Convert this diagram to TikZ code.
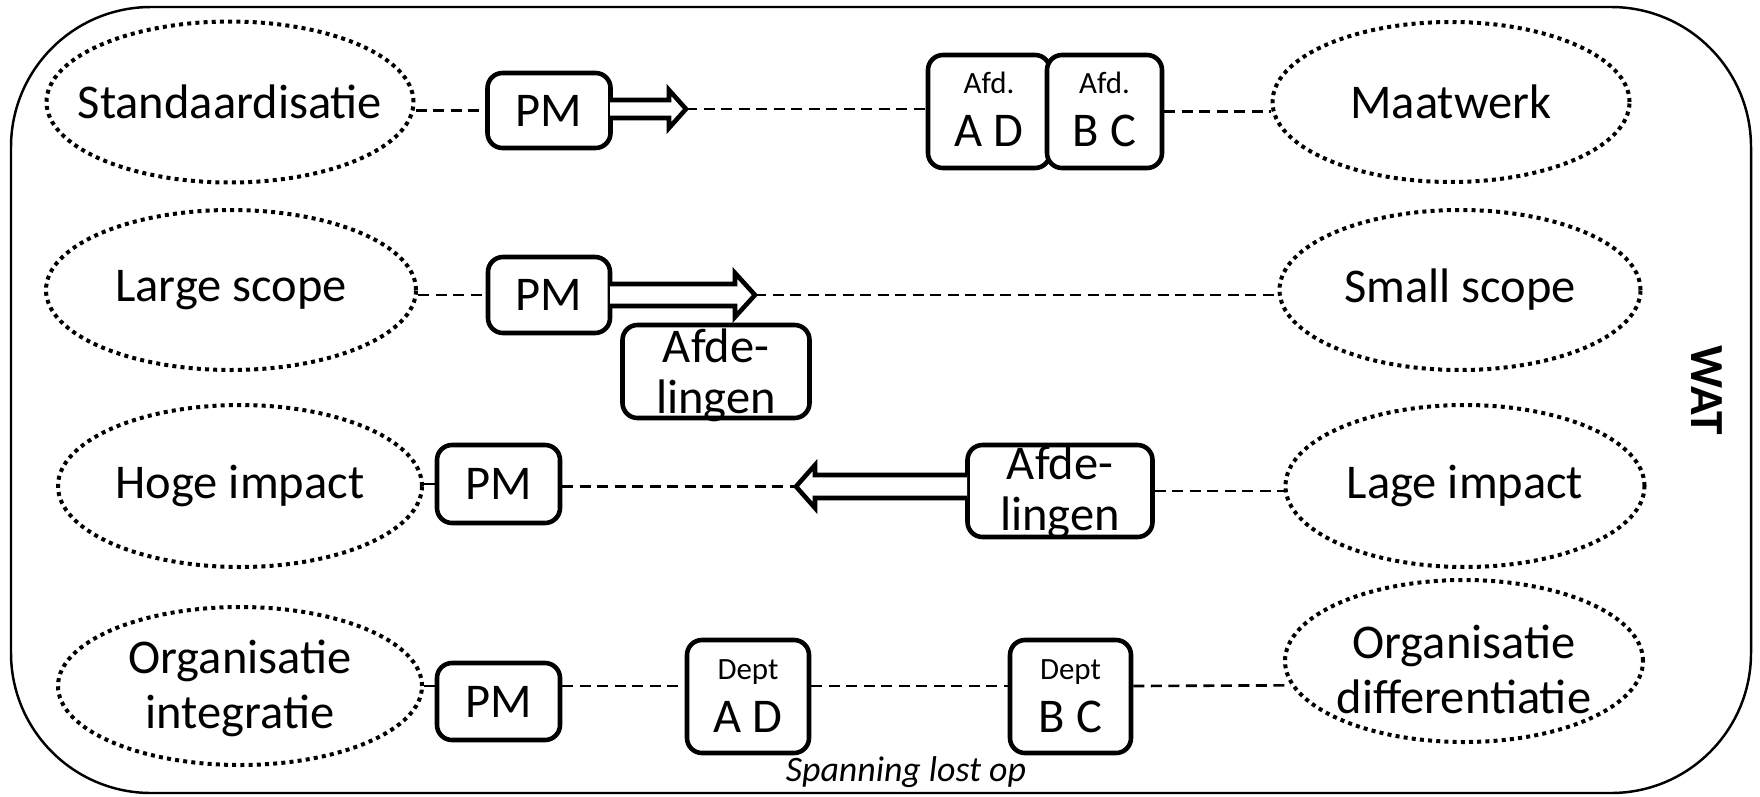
\documentclass[tikz,border=0pt]{standalone}
\usepackage{fontspec}
\setmainfont{Carlito}
\usetikzlibrary{shapes.geometric}
\newcommand\fsmain{\fontsize{13.8}{15.6}\selectfont}
\newcommand\fsbox{\fontsize{13.8}{14.3}\selectfont}
\newcommand\fsafd{\fontsize{13.8}{15}\selectfont}
\newcommand\fssmall{\fontsize{8.8}{10}\selectfont}
\begin{document}
\begin{tikzpicture}[x=0.1mm,y=-0.1mm,
  ell/.style={ellipse,draw,line width=0.4mm,dash pattern=on 0.4mm off 0.42mm,inner sep=-25mm,font=\fsmain,align=center},
  box/.style={draw,rounded corners=1.5mm,line width=1.3pt,fill=white,inner sep=0pt,font=\fsmain,align=center},
  dl/.style={line width=0.75pt,dash pattern=on 1.1mm off 0.65mm},
  barrow/.style={draw,line width=1.3pt,fill=white,line join=miter,miter limit=10},
  frame/.style={draw,line width=0.7pt,rounded corners=14mm,minimum width=174mm,minimum height=78.6mm,inner sep=0pt}]
\useasboundingbox (0,0) rectangle (1760,796);
\node[frame] (frame) at (881,400) {};

% left ellipses
\node[ell,minimum width=36.7mm,minimum height=16.1mm] (E1) at (230,102) {Standaardisatie};
\node[ell,minimum width=37mm,minimum height=16mm] (E2) at (231,290) {Large scope};
\node[ell,minimum width=36.4mm,minimum height=16.2mm] (E3) at (240,486) {Hoge impact};
\node[ell,minimum width=36.4mm,minimum height=15.8mm,text height=8.4mm,text depth=0pt] (E4) at (240,686) {Organisatie\\integratie};
% right ellipses
\node[ell,minimum width=35.7mm,minimum height=16mm] (R1) at (1451,102) {Maatwerk};
\node[ell,minimum width=36.1mm,minimum height=16mm] (R2) at (1460,290) {Small scope};
\node[ell,minimum width=35.9mm,minimum height=16.2mm] (R3) at (1465,486) {Lage impact};
\node[ell,minimum width=35.8mm,minimum height=16.2mm,text height=10.4mm,text depth=0pt] (R4) at (1464,661) {Organisatie\\differentiatie};

% PM boxes
\node[box,minimum width=12.3mm,minimum height=7.5mm] (PM1) at (549,110.5) {PM};
\node[box,minimum width=12.2mm,minimum height=7.6mm] (PM2) at (549,295) {PM};
\node[box,minimum width=12.3mm,minimum height=7.8mm] (PM3) at (498.5,484) {PM};
\node[box,minimum width=12.3mm,minimum height=7.7mm] (PM4) at (498.5,701.5) {PM};

% department boxes
\node[box,font=\fsafd,minimum width=12.2mm,minimum height=11.3mm,text height=7mm,text depth=0pt] (AD) at (989,111.5) {{\fssmall Afd.}\\A D};
\node[box,font=\fsafd,minimum width=11.5mm,minimum height=11.3mm,text height=7mm,text depth=0pt] (BC) at (1104.5,111.5) {{\fssmall Afd.}\\B C};
\node[box,font=\fsbox,minimum width=18.7mm,minimum height=9.3mm,text height=8.3mm,text depth=0pt] (AF2) at (716,371.5) {Afde-\\lingen};
\node[box,font=\fsbox,minimum width=18.5mm,minimum height=9.2mm,text height=7.8mm,text depth=0pt] (AF3) at (1060,491) {Afde-\\lingen};
\node[box,font=\fsafd,minimum width=12.2mm,minimum height=11.3mm,text height=7.1mm,text depth=0pt] (DAD) at (748,696.5) {{\fssmall Dept}\\A D};
\node[box,font=\fsafd,minimum width=12.1mm,minimum height=11.3mm,text height=7.1mm,text depth=0pt] (DBC) at (1070.5,696.5) {{\fssmall Dept}\\B C};

% block arrows
\coordinate (A1tip) at (686,109);
\coordinate (A2tip) at (755,295);
\coordinate (A3tip) at (796,486.5);
\coordinate (L4) at (0,686);
\draw[barrow] (610,100) -- (669,100) -- (669,90) -- (A1tip) -- (669,128) -- (669,118) -- (610,118);
\draw[barrow] (610,284) -- (735,284) -- (735,273) -- (A2tip) -- (735,317) -- (735,306) -- (610,306);
\draw[barrow] (967,475) -- (815,475) -- (815,465) -- (A3tip) -- (815,508) -- (815,498) -- (967,498);

% dashed connectors
\draw[dl] (E1.east |- PM1.west) -- (PM1.west);
\draw[dl] (A1tip) -- (AD.west |- A1tip);
\draw[dl] (BC.east) -- (BC.east -| R1.west);
\draw[dl] (E2.east |- PM2.west) -- (PM2.west);
\draw[dl] (A2tip) -- (A2tip -| R2.west);
\draw[dl] (E3.east |- PM3.west) -- (PM3.west);
\draw[dl] (PM3.east |- A3tip) -- (A3tip);
\draw[dl] (AF3.east) -- (AF3.east -| R3.west);
\draw[dl] (E4.east |- L4) -- (PM4.west |- L4);
\draw[dl] (PM4.east |- L4) -- (DAD.west |- L4);
\draw[dl] (DAD.east |- L4) -- (DBC.west |- L4);
\draw[dl] (DBC.east |- L4) -- (R4.188);

% texts
\node[font=\bfseries\fontsize{13.5}{16}\selectfont,rotate=-90] (wat) at (1707,390) {WAT};
\node[font=\itshape\fontsize{10.2}{12}\selectfont,anchor=base] (span) at (906,781) {Spanning lost op};
\end{tikzpicture}
\end{document}
